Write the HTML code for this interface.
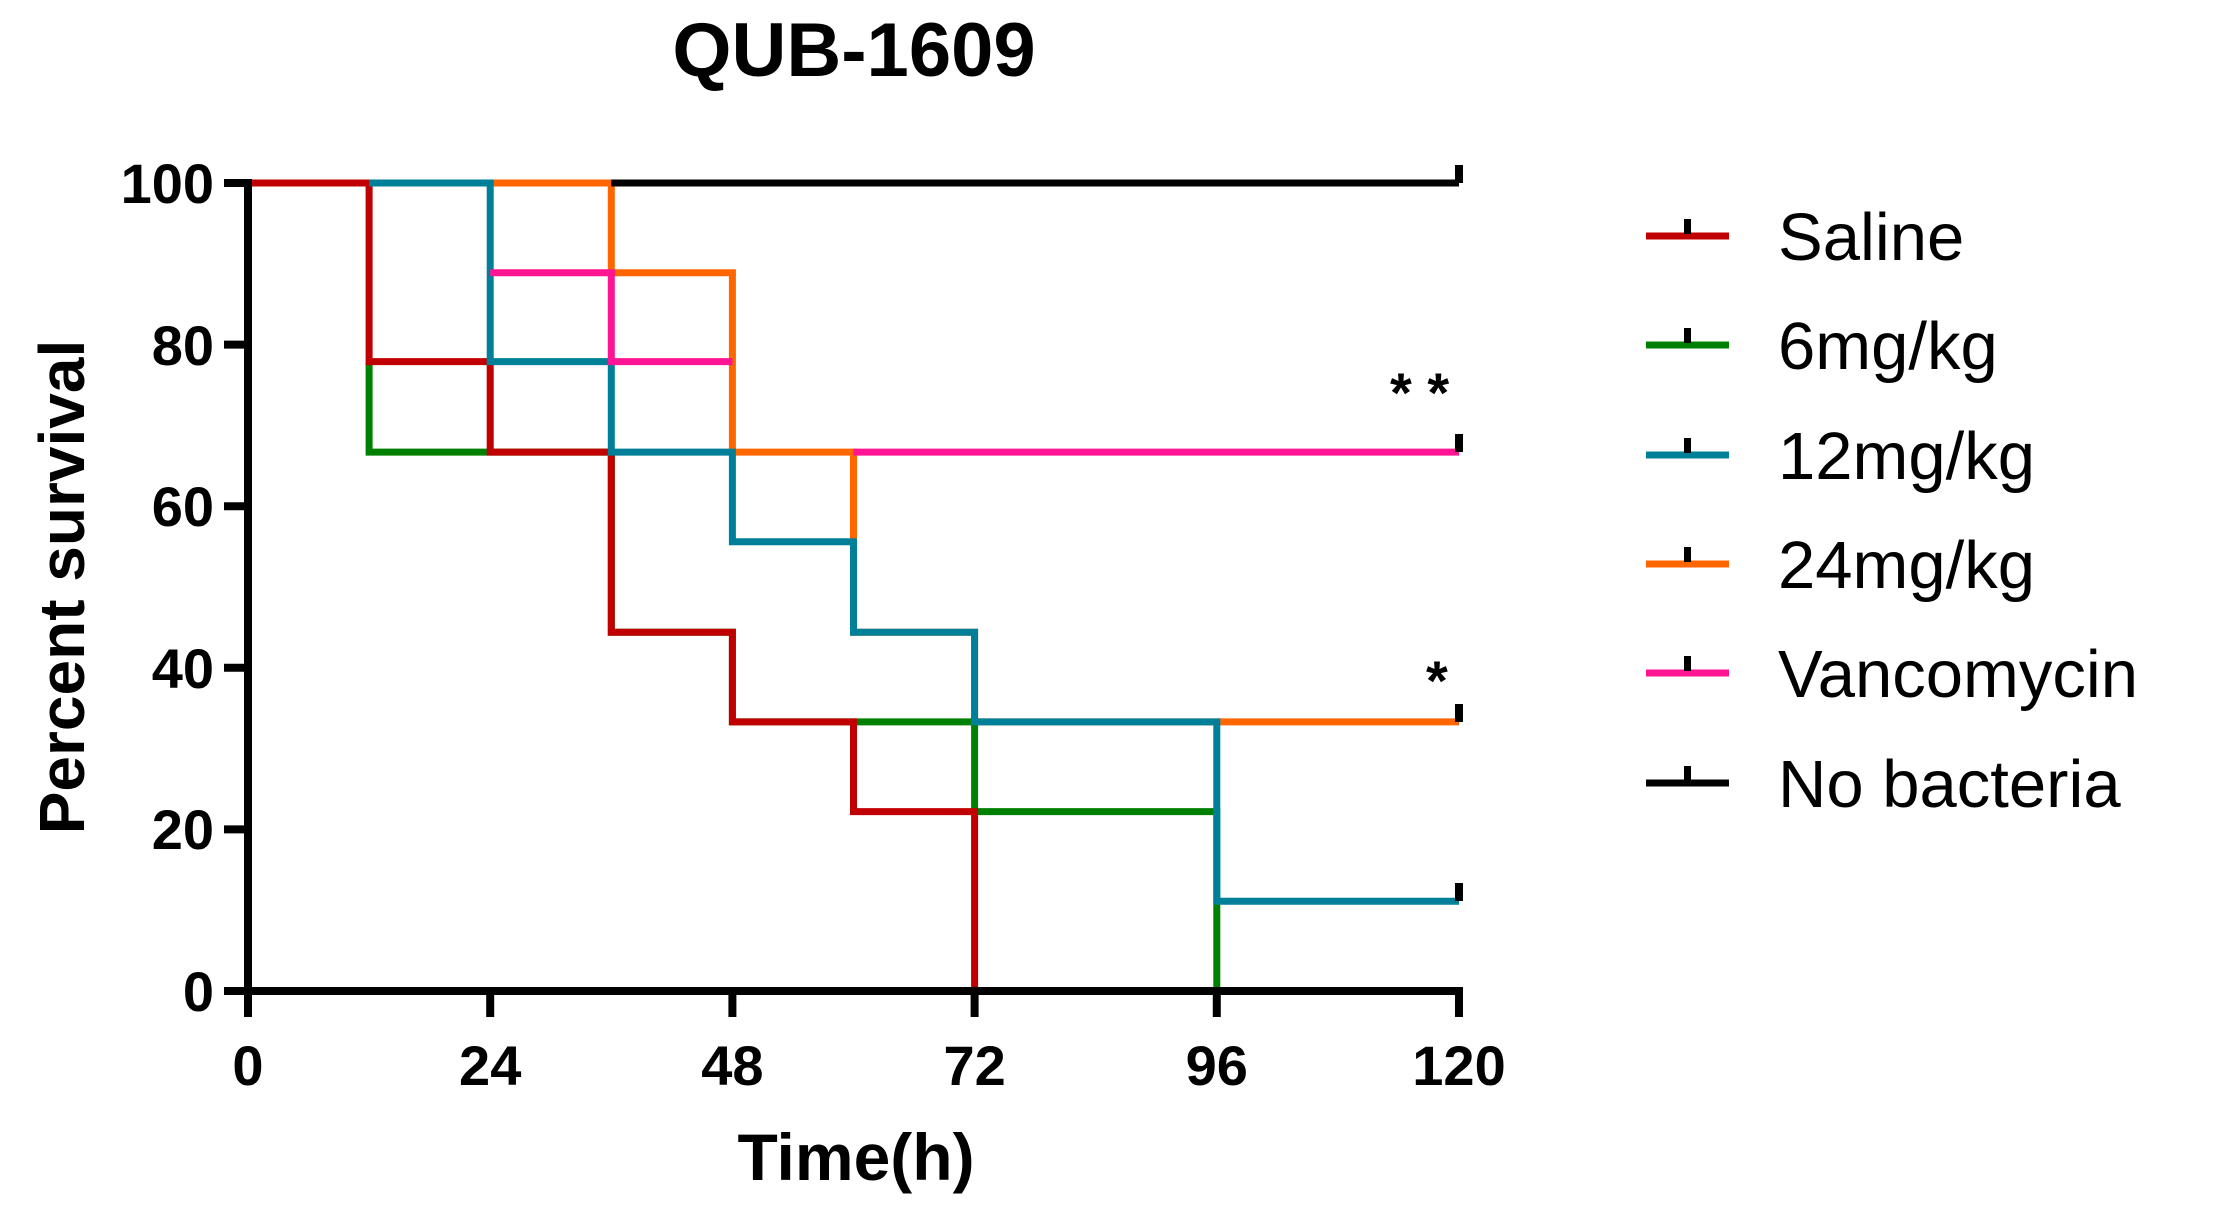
<!DOCTYPE html>
<html><head><meta charset="utf-8"><style>
html,body{margin:0;padding:0;background:#fff;}
svg{display:block;font-family:"Liberation Sans",Arial,sans-serif;}
</style></head><body>
<svg width="2224" height="1215" viewBox="0 0 2224 1215" xmlns="http://www.w3.org/2000/svg">
<rect width="2224" height="1215" fill="#fff"/>
<text x="854" y="76" font-size="76" font-weight="bold" text-anchor="middle">QUB-1609</text>
<g fill="none" stroke-width="7" stroke-linejoin="miter" stroke-linecap="butt">
<path stroke="#ff6600" d="M490.2,183 H611.3 V272.7 H732.4 V452.1 H853.5 V632.2 H974.6 V721.9 H1459"/>
<path stroke="#008000" d="M369.1,361.6 V452.1 H611.3 V632.2 H732.4 V721.9 H974.6 V811.6 H1216.8 V991"/>
<path stroke="#c00000" d="M248,183 H369.1 V361.6 H490.2 V452.1 H611.3 V632.2 H732.4 V721.9 H853.5 V811.6 H974.6 V991"/>
<path stroke="#007f99" d="M369.1,183 H490.2 V361.6 H611.3 V452.1 H732.4 V541.8 H853.5 V632.2 H974.6 V721.9 H1216.8 V901.3 H1459"/>
<path stroke="#ff1493" d="M490.2,272.7 H611.3 V361.6 H732.4 M853.5,452.1 H1459"/>
<path stroke="#000" d="M611.3,183 H1459"/>
</g>
<g fill="#000">
<rect x="1455" y="165" width="8" height="18"/>
<rect x="1455" y="434" width="8" height="18"/>
<rect x="1455" y="704" width="8" height="18"/>
<rect x="1455" y="883" width="8" height="18"/>
</g>
<g stroke="#000" stroke-width="8" fill="none">
<path d="M248,179 V991 H1463"/>
<path d="M224,183 H248 M224,344.6 H248 M224,506.2 H248 M224,667.8 H248 M224,829.4 H248 M224,991 H248"/>
<path d="M248,991 V1017 M490.2,991 V1017 M732.4,991 V1017 M974.6,991 V1017 M1216.8,991 V1017 M1459,991 V1017"/>
</g>
<g font-size="56" font-weight="bold" text-anchor="end">
<text x="214" y="203">100</text>
<text x="214" y="365">80</text>
<text x="214" y="526">60</text>
<text x="214" y="688">40</text>
<text x="214" y="849">20</text>
<text x="214" y="1011">0</text>
</g>
<g font-size="56" font-weight="bold" text-anchor="middle">
<text x="248" y="1085">0</text>
<text x="490.2" y="1085">24</text>
<text x="732.4" y="1085">48</text>
<text x="974.6" y="1085">72</text>
<text x="1216.8" y="1085">96</text>
<text x="1459" y="1085">120</text>
</g>
<text x="856" y="1180" font-size="66" font-weight="bold" text-anchor="middle">Time(h)</text>
<text transform="translate(84,587) rotate(-90)" font-size="64" font-weight="bold" text-anchor="middle">Percent survival</text>
<text x="1390" y="412" font-size="56" font-weight="bold">* *</text>
<text x="1426" y="700" font-size="56" font-weight="bold">*</text>
<g stroke-width="7">
<line x1="1646" y1="236" x2="1729" y2="236" stroke="#c00000"/>
<line x1="1646" y1="345" x2="1729" y2="345" stroke="#008000"/>
<line x1="1646" y1="455" x2="1729" y2="455" stroke="#007f99"/>
<line x1="1646" y1="564" x2="1729" y2="564" stroke="#ff6600"/>
<line x1="1646" y1="673" x2="1729" y2="673" stroke="#ff1493"/>
<line x1="1646" y1="783" x2="1729" y2="783" stroke="#000"/>
</g>
<g fill="#000">
<rect x="1684" y="219" width="7" height="15"/>
<rect x="1684" y="328" width="7" height="15"/>
<rect x="1684" y="438" width="7" height="15"/>
<rect x="1684" y="547" width="7" height="15"/>
<rect x="1684" y="656" width="7" height="15"/>
<rect x="1684" y="766" width="7" height="15"/>
</g>
<g font-size="67">
<text x="1778" y="260">Saline</text>
<text x="1778" y="369">6mg/kg</text>
<text x="1778" y="479">12mg/kg</text>
<text x="1778" y="588">24mg/kg</text>
<text x="1778" y="697">Vancomycin</text>
<text x="1778" y="807">No bacteria</text>
</g>
</svg>
</body></html>
